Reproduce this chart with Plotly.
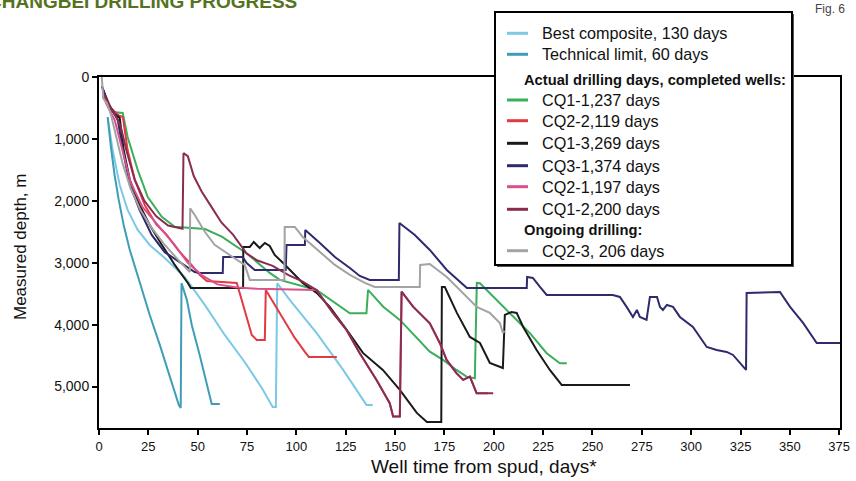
import plotly.graph_objects as go

# ---------------- data (days from spud, measured depth m) ----------------
best_days = [4.4, 6.9, 10.5, 14.5, 19.6, 25.7, 33.3, 43.4, 53.6, 63.7, 73.8, 82.5, 88.0, 89.6, 90.3, 96.6, 110.2, 123.7, 135.5, 138.7]
best_depth = [662, 1179, 1744, 2148, 2471, 2713, 2923, 3230, 3682, 4167, 4603, 5023, 5330, 5330, 3330, 3601, 4134, 4732, 5297, 5297]

tech_days = [4.4, 5.9, 7.9, 10.0, 12.5, 15.6, 20.6, 25.7, 30.8, 35.8, 40.4, 41.4, 41.8, 44.5, 47.0, 51.0, 54.0, 57.1, 61.2]
tech_depth = [646, 1098, 1583, 1986, 2390, 2794, 3311, 3844, 4328, 4813, 5297, 5346, 3330, 3600, 4005, 4490, 4893, 5281, 5281]

cq1_1_days = [1.5, 4.4, 6.9, 12.0, 14.5, 19.6, 24.7, 31.8, 38.4, 53.7, 62.2, 74.7, 86.5, 91.6, 110.2, 127.1, 135.5, 136.3, 144.0, 152.4, 167.6, 174.3, 181.1, 186.2, 190.4, 191.4, 193.0, 201.4, 209.8, 218.3, 226.8, 233.5, 237.0]
cq1_1_depth = [150, 420, 565, 581, 970, 1500, 1940, 2260, 2420, 2455, 2580, 2847, 3165, 3278, 3440, 3816, 3816, 3440, 3710, 3924, 4436, 4570, 4732, 4840, 4866, 3327, 3332, 3601, 3871, 4139, 4462, 4624, 4624]

cq2_2_days = [2.0, 6.0, 10.0, 12.1, 14.5, 18.1, 23.2, 29.2, 34.3, 39.9, 46.0, 51.0, 54.6, 69.8, 72.3, 75.4, 77.4, 79.9, 84.0, 84.5, 89.0, 94.1, 99.2, 104.3, 106.3, 120.5]
cq2_2_depth = [200, 500, 620, 646, 1180, 1660, 2070, 2390, 2550, 2790, 3004, 3197, 3295, 3327, 3601, 3924, 4167, 4247, 4247, 3440, 3682, 3957, 4215, 4441, 4522, 4522]

cq1_3_days = [1.5, 4.0, 8.0, 10.5, 12.5, 15.6, 20.6, 25.7, 31.8, 38.4, 45.0, 46.5, 73.0, 73.1, 76.4, 78.4, 81.4, 84.0, 86.5, 89.0, 93.3, 98.3, 103.2, 110.3, 116.9, 125.5, 133.7, 143.8, 152.4, 161.0, 166.1, 173.4, 173.7, 175.2, 181.3, 187.9, 193.0, 198.0, 204.6, 205.6, 209.0, 211.6, 214.9, 221.7, 228.4, 234.4, 269.0]
cq1_3_depth = [150, 400, 600, 660, 1180, 1660, 2070, 2390, 2710, 3036, 3327, 3408, 3408, 2746, 2746, 2665, 2762, 2681, 2730, 2875, 3004, 3165, 3327, 3488, 3714, 4086, 4457, 4732, 5055, 5426, 5572, 5572, 3392, 3392, 3811, 4199, 4296, 4619, 4700, 3844, 3795, 3811, 4038, 4409, 4732, 4974, 4974]

cq3_1_days = [2.0, 5.0, 9.5, 12.1, 15.6, 20.6, 26.7, 33.3, 40.9, 48.5, 51.0, 62.7, 62.9, 72.8, 74.8, 78.9, 94.6, 95.0, 104.3, 104.5, 111.9, 119.5, 127.1, 132.1, 137.2, 151.9, 152.2, 160.0, 167.6, 176.2, 186.4, 216.7, 216.9, 219.8, 223.4, 226.8, 260.3, 263.9, 267.3, 270.5, 272.5, 274.0, 277.4, 279.1, 282.7, 284.2, 285.7, 287.7, 290.8, 294.3, 300.9, 304.5, 307.9, 312.9, 318.0, 321.2, 326.4, 327.8, 328.1, 339.9, 345.0, 350.1, 356.7, 363.6, 375.4]
cq3_1_depth = [200, 450, 690, 1180, 1740, 2150, 2550, 2830, 2990, 3150, 3165, 3165, 2907, 2907, 3004, 3117, 3117, 2713, 2713, 2471, 2681, 2907, 3085, 3214, 3278, 3278, 2358, 2552, 2794, 3117, 3408, 3408, 3230, 3246, 3392, 3521, 3521, 3553, 3714, 3876, 3763, 3876, 3924, 3553, 3553, 3714, 3763, 3682, 3714, 3876, 4038, 4199, 4361, 4409, 4441, 4490, 4684, 4732, 3488, 3472, 3472, 3714, 3973, 4296, 4296]

cq2_1_days = [2.0, 4.0, 8.0, 12.0, 16.0, 22.0, 30.0, 38.0, 45.0, 52.0, 60.0, 70.0, 80.0, 92.0, 102.0, 110.2, 118.6, 125.4, 132.1, 140.6, 147.3, 149.0, 152.4, 153.3, 159.1, 167.6, 172.7, 176.1, 181.1, 184.5, 187.9, 191.3, 197.0]
cq2_1_depth = [300, 450, 700, 1200, 1700, 2100, 2400, 2700, 3000, 3200, 3350, 3400, 3420, 3430, 3435, 3440, 3816, 4086, 4462, 4893, 5270, 5486, 5486, 3467, 3710, 3978, 4301, 4570, 4785, 4893, 4840, 5108, 5108]

cq1_2_days = [2.0, 5.0, 8.0, 11.0, 14.0, 18.0, 23.0, 29.0, 35.0, 42.3, 42.8, 45.0, 48.0, 52.0, 56.0, 62.0, 68.0, 74.7, 80.0, 88.0, 96.0, 103.0, 110.2, 118.6, 125.4, 132.1, 140.6, 147.3, 149.0, 152.4, 153.3, 159.1, 167.6, 172.7, 176.1, 181.1, 184.5, 187.9, 191.3, 199.7]
cq1_2_depth = [250, 450, 600, 800, 1200, 1650, 2000, 2250, 2400, 2450, 1230, 1280, 1600, 1850, 2050, 2350, 2550, 2847, 2960, 3050, 3200, 3300, 3440, 3816, 4086, 4462, 4893, 5270, 5486, 5486, 3467, 3710, 3978, 4301, 4570, 4785, 4893, 4840, 5108, 5108]

cq2_3_days = [1.4, 2.2, 4.0, 6.0, 9.0, 12.0, 16.0, 21.0, 27.0, 33.0, 40.0, 46.0, 46.2, 48.5, 53.6, 58.6, 66.2, 73.8, 76.4, 93.9, 94.1, 99.2, 103.2, 111.9, 119.5, 127.1, 134.7, 139.7, 162.5, 162.7, 167.6, 176.2, 184.3, 191.4, 198.0, 203.1, 204.6, 205.5]
cq2_3_depth = [0, 350, 420, 600, 1000, 1400, 1800, 2150, 2450, 2700, 2950, 3150, 2120, 2230, 2500, 2710, 2875, 3036, 3278, 3278, 2423, 2423, 2584, 2826, 3036, 3197, 3327, 3392, 3392, 3036, 3020, 3230, 3488, 3714, 3811, 3973, 4134, 4100]

x_ticks = [0, 25, 50, 75, 100, 125, 150, 175, 200, 225, 250, 275, 300, 325, 350, 375]
y_ticks = [0, 1000, 2000, 3000, 4000, 5000]
y_tick_text = ["0", "1,000", "2,000", "3,000", "4,000", "5,000"]

series = [
    ("Best composite, 130 days", best_days, best_depth, "#7cc9e6"),
    ("Technical limit, 60 days", tech_days, tech_depth, "#3f9db6"),
    ("CQ1-1,237 days", cq1_1_days, cq1_1_depth, "#3aae5a"),
    ("CQ2-2,119 days", cq2_2_days, cq2_2_depth, "#e23a40"),
    ("CQ1-3,269 days", cq1_3_days, cq1_3_depth, "#1a1a1a"),
    ("CQ3-1,374 days", cq3_1_days, cq3_1_depth, "#2e2b6c"),
    ("CQ2-1,197 days", cq2_1_days, cq2_1_depth, "#d8508c"),
    ("CQ1-2,200 days", cq1_2_days, cq1_2_depth, "#8a2c50"),
    ("CQ2-3, 206 days", cq2_3_days, cq2_3_depth, "#a3a3a3"),
]

# ---------------- figure ----------------
W, H = 856, 481
L, R, T, B = 99, 840, 77, 428


def px(x):
    return (x - L) / (R - L)


def py(y):
    return (B - y) / (B - T)


fig = go.Figure()
for name, d, z, c in series:
    fig.add_trace(go.Scatter(x=d, y=z, mode="lines", name=name,
                             line=dict(color=c, width=2), showlegend=False))

fig.update_layout(
    width=W, height=H,
    margin=dict(l=L, r=W - R, t=T, b=H - B, autoexpand=False),
    paper_bgcolor="white", plot_bgcolor="white",
    showlegend=False,
    font=dict(family="Liberation Sans, Arial, sans-serif", color="#111"),
)
fig.update_xaxes(range=[0, 375.4], tickvals=x_ticks, ticktext=[str(v) for v in x_ticks],
                 showgrid=False, zeroline=False, showline=True, linecolor="black", linewidth=2,
                 mirror=True, ticks="outside", ticklen=5, tickwidth=1.5, tickcolor="black",
                 automargin=False,
                 tickfont=dict(family="Liberation Sans Narrow, Arial Narrow, sans-serif", size=13, color="#111"))
fig.update_yaxes(range=[5670, 0], tickvals=y_ticks, ticktext=y_tick_text,
                 showgrid=False, zeroline=False, showline=True, linecolor="black", linewidth=2,
                 mirror=True, ticks="outside", ticklen=5, tickwidth=2, tickcolor="black",
                 automargin=False,
                 tickfont=dict(family="Liberation Sans, Arial, sans-serif", size=14, color="#111"))

ann = []
# axis titles
ann.append(dict(text="Well time from spud, days*", x=px(484), y=py(466), xref="paper", yref="paper",
                showarrow=False, xanchor="center", yanchor="middle",
                font=dict(family="Liberation Sans Narrow, Arial Narrow, sans-serif", size=19, color="#111")))
ann.append(dict(text="Measured depth, m", x=px(20), y=py(247), xref="paper", yref="paper",
                showarrow=False, xanchor="center", yanchor="middle", textangle=-90,
                font=dict(family="Liberation Sans, Arial, sans-serif", size=17, color="#111")))
# header (only its lower part is visible at the top edge)
ann.append(dict(text="<b>CHANGBEI DRILLING PROGRESS</b>", x=px(-14), y=py(1.5), xref="paper", yref="paper",
                showarrow=False, xanchor="left", yanchor="middle",
                font=dict(family="Liberation Sans Narrow, Arial Narrow, sans-serif", size=19, color="#55731f")))
ann.append(dict(text="Fig. 6", x=px(847), y=py(9), xref="paper", yref="paper",
                showarrow=False, xanchor="right", yanchor="middle",
                font=dict(family="Liberation Sans, Arial, sans-serif", size=12, color="#444")))

shapes = []
# legend box (shadow + box)
shapes.append(dict(type="rect", xref="paper", yref="paper", x0=px(497), x1=px(794), y0=py(267), y1=py(14),
                   fillcolor="#555", line=dict(width=0), layer="above"))
shapes.append(dict(type="rect", xref="paper", yref="paper", x0=px(495), x1=px(792), y0=py(265), y1=py(12),
                   fillcolor="white", line=dict(color="black", width=2), layer="above"))

rows = [
    (33.3, "Best composite, 130 days", "#7cc9e6", False),
    (54.3, "Technical limit, 60 days", "#3f9db6", False),
    (80.0, "Actual drilling days, completed wells:", None, True),
    (100.0, "CQ1-1,237 days", "#3aae5a", False),
    (120.7, "CQ2-2,119 days", "#e23a40", False),
    (143.3, "CQ1-3,269 days", "#1a1a1a", False),
    (165.7, "CQ3-1,374 days", "#2e2b6c", False),
    (186.7, "CQ2-1,197 days", "#d8508c", False),
    (209.3, "CQ1-2,200 days", "#8a2c50", False),
    (230.0, "Ongoing drilling:", None, True),
    (250.7, "CQ2-3, 206 days", "#a3a3a3", False),
]
for yy, txt, col, bold in rows:
    if bold:
        ann.append(dict(text="<b>" + txt + "</b>", x=px(521.5), y=py(yy), xref="paper", yref="paper",
                        showarrow=False, xanchor="left", yanchor="middle",
                        font=dict(family="Liberation Sans, Arial, sans-serif", size=14.7, color="#111")))
    else:
        shapes.append(dict(type="line", xref="paper", yref="paper", x0=px(507), x1=px(528), y0=py(yy), y1=py(yy),
                           line=dict(color=col, width=3), layer="above"))
        ann.append(dict(text=txt, x=px(540), y=py(yy), xref="paper", yref="paper",
                        showarrow=False, xanchor="left", yanchor="middle",
                        font=dict(family="Liberation Sans, Arial, sans-serif", size=16.2, color="#111")))

fig.update_layout(annotations=ann, shapes=shapes)
fig.write_html("out.html", config={"displayModeBar": False},
               post_script="document.body.style.margin='0';document.body.style.overflow='hidden';")
